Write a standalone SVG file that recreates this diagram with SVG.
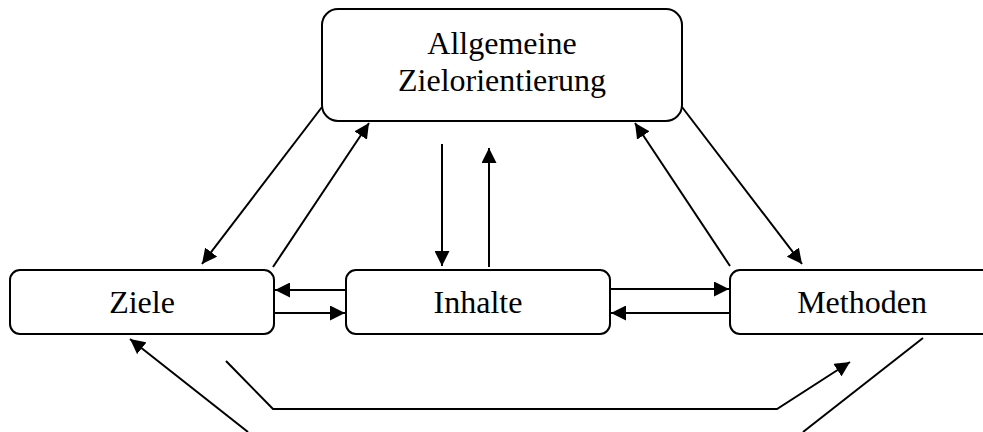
<svg xmlns="http://www.w3.org/2000/svg" width="983" height="432" viewBox="0 0 983 432">
<style>
.box{fill:#fff;stroke:#000;stroke-width:2}
.lbl{font-family:"Liberation Serif","Times New Roman",serif;font-size:32px;fill:#000;text-anchor:middle}
.c{fill:none;stroke:#000;stroke-width:2}
.a{marker-end:url(#ah)}
</style>
<defs>
<marker id="ah" markerUnits="userSpaceOnUse" markerWidth="16" markerHeight="15" refX="15" refY="7.5" orient="auto">
<path d="M0,0 L15,7.5 L0,15 z" fill="#000"/>
</marker>
</defs>
<rect width="983" height="432" fill="#fff"/>
<g id="connectors">
<line class="c a" x1="322" y1="107" x2="202" y2="264"/>
<line class="c a" x1="273" y1="267" x2="369" y2="123"/>
<line class="c a" x1="442" y1="144" x2="442" y2="266"/>
<line class="c a" x1="489" y1="267" x2="489" y2="148"/>
<line class="c a" x1="730" y1="266" x2="635" y2="123"/>
<line class="c a" x1="682" y1="107" x2="802" y2="264"/>
<line class="c a" x1="346" y1="290" x2="275" y2="290"/>
<line class="c a" x1="274" y1="313" x2="345" y2="313"/>
<line class="c a" x1="610" y1="289" x2="729" y2="289"/>
<line class="c a" x1="730" y1="313" x2="611" y2="313"/>
<polyline class="c a" points="226,361 273,409 777,409 850,362"/>
<line class="c" x1="923" y1="338" x2="803" y2="432"/>
<line class="c a" x1="248" y1="432" x2="130" y2="339"/>
</g>
<g id="node-top">
<rect class="box" x="322" y="9" width="360" height="112" rx="16"/>
<text class="lbl" x="502" y="54">Allgemeine</text>
<text class="lbl" x="502" y="91">Zielorientierung</text>
</g>
<g id="node-ziele">
<rect class="box" x="10" y="270" width="264" height="64" rx="10"/>
<text class="lbl" x="142" y="313">Ziele</text>
</g>
<g id="node-inhalte">
<rect class="box" x="346" y="270" width="264" height="64" rx="10"/>
<text class="lbl" x="478" y="313">Inhalte</text>
</g>
<g id="node-methoden">
<rect class="box" x="730" y="270" width="264" height="64" rx="10"/>
<text class="lbl" x="862" y="313">Methoden</text>
</g>
</svg>
